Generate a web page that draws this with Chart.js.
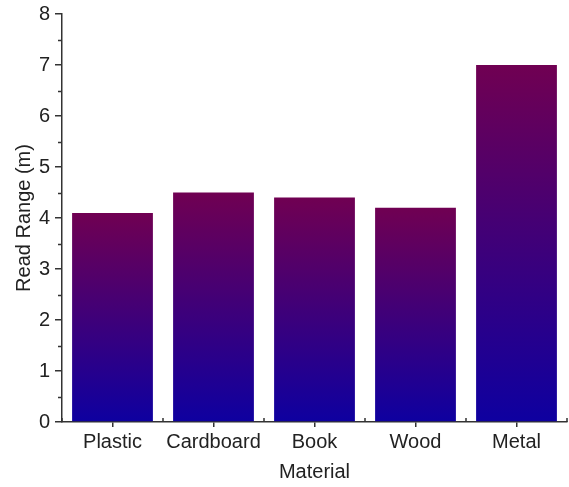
<!DOCTYPE html>
<html>
<head>
<meta charset="utf-8">
<script src="https://cdn.jsdelivr.net/npm/chart.js@4"></script>
<style>
  body { margin: 0; background: #fff; }
</style>
</head>
<body>
<canvas id="chart" width="569" height="487"></canvas>
<script>
const materials = ['Plastic', 'Cardboard', 'Book', 'Wood', 'Metal'];
const readRange = [4.1, 4.5, 4.4, 4.2, 7.0];
const yTicks = [0, 1, 2, 3, 4, 5, 6, 7, 8];

const topColor = '#700052';
const bottomColor = '#0e00a0';
const axisColor = '#333333';
const fontFamily = 'Liberation Sans, Arial';

function barGradient(context) {
    const chart = context.chart;
    const y = chart.scales.y;
    if (!chart.chartArea || !y) return bottomColor;
    const top = y.getPixelForValue(context.raw);
    const base = y.getPixelForValue(0);
    const g = chart.ctx.createLinearGradient(0, top, 0, base);
    g.addColorStop(0, topColor);
    g.addColorStop(1, bottomColor);
    return g;
}

// minor ticks on y and boundary ticks on x
const extraTicks = {
    id: 'extraTicks',
    afterDraw(chart) {
        const c = chart.ctx;
        const x = chart.scales.x, y = chart.scales.y;
        c.save();
        c.strokeStyle = axisColor;
        c.lineWidth = 1.5;
        c.beginPath();
        for (let i = 0; i < yTicks.length - 1; i++) {
            const py = Math.round(y.getPixelForValue(yTicks[i] + 0.5)) + 0.5;
            c.moveTo(y.right - 4, py);
            c.lineTo(y.right, py);
        }
        for (let i = 0; i <= materials.length; i++) {
            const px = x.getPixelForValue(i - 0.5);
            c.moveTo(px, x.top);
            c.lineTo(px, x.top - 4);
        }
        c.stroke();
        c.restore();
    }
};

new Chart(document.getElementById('chart'), {
    type: 'bar',
    data: {
        labels: materials,
        datasets: [{
            label: 'Read Range',
            data: readRange,
            backgroundColor: barGradient,
            borderWidth: 0,
            barPercentage: 0.8,
            categoryPercentage: 1.0
        }]
    },
    options: {
        responsive: false,
        animation: false,
        layout: { padding: { top: 14, right: 2, left: 0, bottom: 0 } },
        plugins: {
            legend: { display: false },
            tooltip: { enabled: false }
        },
        scales: {
            x: {
                offset: true,
                grid: {
                    offset: false,
                    drawOnChartArea: false,
                    tickLength: 5,
                    tickColor: axisColor,
                    lineWidth: 1.5
                },
                border: { color: axisColor, width: 1.5 },
                ticks: {
                    color: '#222',
                    padding: 3,
                    maxRotation: 0,
                    font: { family: fontFamily, size: 20 }
                },
                title: {
                    display: true,
                    text: 'Material',
                    color: '#222',
                    padding: { top: 0, bottom: 3 },
                    font: { family: fontFamily, size: 20 }
                },
                afterFit(scale) { scale.height = 65; }
            },
            y: {
                min: 0,
                max: 8,
                afterBuildTicks(scale) {
                    scale.ticks = yTicks.map(v => ({ value: v }));
                },
                grid: {
                    drawOnChartArea: false,
                    tickLength: 7,
                    tickColor: axisColor,
                    lineWidth: 1.5
                },
                border: { color: axisColor, width: 1.5 },
                ticks: {
                    color: '#222',
                    padding: 5,
                    font: { family: fontFamily, size: 20 }
                },
                title: {
                    display: true,
                    text: 'Read Range (m)',
                    color: '#222',
                    padding: { top: 12, bottom: 0 },
                    font: { family: fontFamily, size: 20 }
                },
                afterFit(scale) {
                    scale.width = 62;
                    scale.paddingTop = 0;
                    scale.paddingBottom = 0;
                }
            }
        }
    },
    plugins: [extraTicks]
});
</script>
</body>
</html>
